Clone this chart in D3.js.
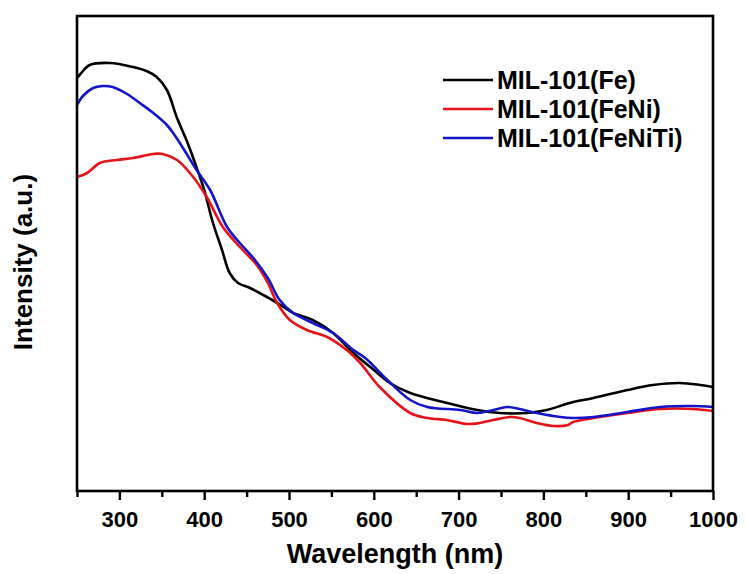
<!DOCTYPE html>
<html>
<head>
<meta charset="utf-8">
<script src="https://cdn.jsdelivr.net/npm/d3@7"></script>
<style>
  body { margin: 0; background: #fff; }
  svg text { font-family: Arial, "Liberation Sans", sans-serif; font-weight: bold; fill: #000; }
</style>
</head>
<body>
<div id="chart"></div>
<script>
// Wavelength ticks
const majorTicks = [300, 400, 500, 600, 700, 800, 900, 1000];
const minorTicks = [250, 350, 450, 550, 650, 750, 850, 950];

// MIL-101(Fe) - black
const feWl = [250, 254, 265, 289, 316, 332, 344, 356, 368, 380, 390, 400, 410, 421, 430, 440, 454, 474, 490, 505, 528, 552, 576, 600, 619, 643, 682, 722, 749, 781, 804, 831, 859, 899, 929, 961, 985, 1000];
const feVal = [413, 417, 426, 428, 424, 420, 414, 401, 373, 349, 326, 301, 269, 241, 218, 208, 203, 194, 186, 178, 171, 158, 138, 121, 108, 98, 89, 81, 78, 78, 81, 88, 93, 101, 106, 108, 106, 104];

// MIL-101(FeNi) - red
const feNiWl = [250, 262, 277, 297, 316, 340, 351, 368, 387, 403, 422, 442, 462, 475, 486, 501, 521, 545, 568, 584, 607, 643, 663, 686, 710, 725, 741, 761, 772, 792, 811, 829, 835, 859, 899, 938, 976, 1000];
const feNiVal = [314, 318, 328, 331, 333, 337, 337, 331, 314, 294, 264, 244, 226, 208, 188, 171, 161, 154, 141, 128, 104, 78, 73, 71, 67, 68, 71, 74, 73, 68, 65, 66, 69, 73, 78, 82, 82, 80];

// MIL-101(FeNiTi) - blue
const feNiTiWl = [250, 257, 269, 280, 292, 309, 324, 340, 356, 365, 375, 391, 407, 427, 442, 458, 475, 489, 505, 528, 552, 576, 590, 616, 643, 663, 702, 722, 741, 757, 772, 792, 820, 835, 859, 899, 938, 976, 1000];
const feNiTiVal = [386, 395, 403, 405, 404, 397, 388, 378, 366, 356, 343, 321, 301, 264, 248, 233, 213, 191, 178, 168, 158, 141, 133, 111, 91, 84, 81, 78, 81, 84, 82, 78, 74, 73, 74, 79, 84, 85, 84];

const seriesNames = ["MIL-101(Fe)", "MIL-101(FeNi)", "MIL-101(FeNiTi)"];
const seriesColors = ["#000000", "#e5141b", "#1414c8"];

const series = [
  { name: seriesNames[0], color: seriesColors[0], pts: feWl.map((w, i) => ({ x: w, y: feVal[i] })) },
  { name: seriesNames[1], color: seriesColors[1], pts: feNiWl.map((w, i) => ({ x: w, y: feNiVal[i] })) },
  { name: seriesNames[2], color: seriesColors[2], pts: feNiTiWl.map((w, i) => ({ x: w, y: feNiTiVal[i] })) }
];

const W = 745, H = 574;
const margin = { top: 16, right: 32, bottom: 83, left: 77 };
const width = W - margin.left - margin.right;
const height = H - margin.top - margin.bottom;

const svg = d3.select("#chart").append("svg")
  .attr("width", W)
  .attr("height", H);

const g = svg.append("g")
  .attr("transform", `translate(${margin.left},${margin.top})`);

const x = d3.scaleLinear().domain([250, 1000]).range([0, width]);
const y = d3.scaleLinear().domain([0, 475]).range([height, 0]);

// curves
const line = d3.line()
  .x(d => x(d.x))
  .y(d => y(d.y))
  .curve(d3.curveCatmullRom);

g.selectAll(".curve")
  .data(series)
  .enter()
  .append("path")
  .attr("class", "curve")
  .attr("fill", "none")
  .attr("stroke", d => d.color)
  .attr("stroke-width", 2.6)
  .attr("stroke-linejoin", "round")
  .attr("d", d => line(d.pts));

// frame
g.append("rect")
  .attr("width", width)
  .attr("height", height)
  .attr("fill", "none")
  .attr("stroke", "#000")
  .attr("stroke-width", 2.6);

// bottom axis: major ticks with labels
const xAxis = g.append("g")
  .attr("transform", `translate(0,${height})`)
  .call(d3.axisBottom(x).tickValues(majorTicks).tickSize(9).tickSizeOuter(0).tickFormat(d3.format("d")));
xAxis.select(".domain").remove();
xAxis.selectAll("line").attr("stroke-width", 2.4);
xAxis.selectAll("text")
  .attr("y", 36)
  .attr("dy", 0)
  .style("font-size", "22px");

// minor ticks
const xMinor = g.append("g")
  .attr("transform", `translate(0,${height})`)
  .call(d3.axisBottom(x).tickValues(minorTicks).tickSize(6).tickSizeOuter(0).tickFormat(""));
xMinor.select(".domain").remove();
xMinor.selectAll("line").attr("stroke-width", 2.4);

// axis titles
svg.append("text")
  .attr("x", margin.left + width / 2)
  .attr("y", 563)
  .attr("text-anchor", "middle")
  .style("font-size", "27px")
  .text("Wavelength (nm)");

svg.append("text")
  .attr("transform", "translate(32,262) rotate(-90)")
  .attr("text-anchor", "middle")
  .style("font-size", "26px")
  .text("Intensity (a.u.)");

// legend
const legend = svg.selectAll(".legend")
  .data(series)
  .enter()
  .append("g")
  .attr("class", "legend")
  .attr("transform", (d, i) => `translate(443,${80 + i * 29})`);

legend.append("line")
  .attr("x1", 0)
  .attr("x2", 50)
  .attr("stroke", d => d.color)
  .attr("stroke-width", 2.6);

legend.append("text")
  .attr("x", 54)
  .attr("y", 9)
  .style("font-size", "25px")
  .text(d => d.name);
</script>
</body>
</html>
